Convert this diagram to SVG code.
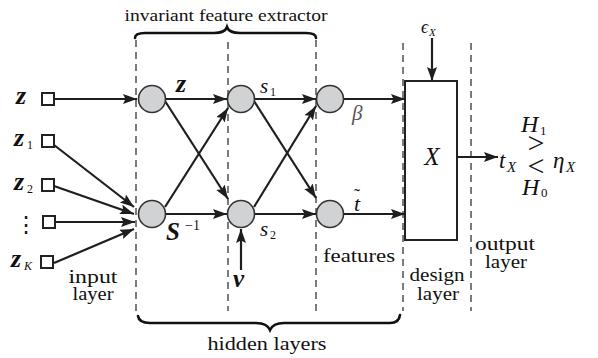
<svg xmlns="http://www.w3.org/2000/svg" width="598" height="358" viewBox="0 0 598 358" font-family="'Liberation Serif', 'DejaVu Serif', serif">
  <style>
    text { font-family: "Liberation Serif", "DejaVu Serif", serif; fill: #111; }
    .t { font-style: normal; }
    .m { font-style: italic; }
    .b { font-style: italic; font-weight: bold; }
    .neuron { fill: #d1d2d4; stroke: #333; stroke-width: 1.6; }
    .inp { fill: #fff; stroke: #222; stroke-width: 2; }
    .edge { stroke: #1e1e1e; stroke-width: 2.2; fill: none; }
    .sep { stroke: #444; stroke-width: 1.4; stroke-dasharray: 7 5; fill: none; }
    .brace { stroke: #111; stroke-width: 2.6; fill: none; stroke-linecap: round; }
  </style>
  <defs>
    <marker id="ah" markerUnits="userSpaceOnUse" markerWidth="16" markerHeight="12" refX="14" refY="5" orient="auto">
      <path d="M0,0 L14,5 L0,10 L2.5,5 Z" fill="#1e1e1e"/>
    </marker>
  </defs>

  <!-- layer separators -->
  <g id="separators">
    <line class="sep" x1="136" y1="40" x2="136" y2="311"/>
    <line class="sep" x1="228" y1="42" x2="228" y2="311"/>
    <line class="sep" x1="316" y1="40" x2="316" y2="311"/>
    <line class="sep" x1="403" y1="43" x2="403" y2="311"/>
    <line class="sep" x1="471" y1="43" x2="471" y2="311"/>
  </g>

  <!-- braces -->
  <g id="braces">
    <path class="brace" d="M135,38 Q135,33 145,33 L214,33 Q225,33 227,27 Q229,33 240,33 L306,33 Q316,33 316,38"/>
    <path class="brace" d="M138,316 Q139,323 150,323 L256,323 Q267,323 270,330 Q273,323 284,323 L390,323 Q399,323 400,315"/>
  </g>

  <!-- connectors -->
  <g id="connectors">
    <line class="edge" x1="54" y1="99" x2="137" y2="99" marker-end="url(#ah)"/>
    <line class="edge" x1="54" y1="145" x2="134" y2="207" marker-end="url(#ah)"/>
    <line class="edge" x1="54" y1="186" x2="134" y2="214" marker-end="url(#ah)"/>
    <line class="edge" x1="55" y1="222" x2="135" y2="222" marker-end="url(#ah)"/>
    <line class="edge" x1="54" y1="263" x2="134" y2="229" marker-end="url(#ah)"/>

    <line class="edge" x1="166" y1="99" x2="227" y2="99" marker-end="url(#ah)"/>
    <line class="edge" x1="166" y1="214" x2="227" y2="214" marker-end="url(#ah)"/>
    <line class="edge" x1="165" y1="101" x2="228" y2="199" marker-end="url(#ah)"/>
    <line class="edge" x1="165" y1="207" x2="228" y2="108" marker-end="url(#ah)"/>

    <line class="edge" x1="255" y1="99" x2="316" y2="99" marker-end="url(#ah)"/>
    <line class="edge" x1="255" y1="214" x2="316" y2="214" marker-end="url(#ah)"/>
    <line class="edge" x1="254" y1="101" x2="316" y2="198" marker-end="url(#ah)"/>
    <line class="edge" x1="254" y1="207" x2="316" y2="106" marker-end="url(#ah)"/>

    <line class="edge" x1="344" y1="99" x2="405" y2="99" marker-end="url(#ah)"/>
    <line class="edge" x1="344" y1="214" x2="405" y2="214" marker-end="url(#ah)"/>

    <line class="edge" x1="241" y1="270" x2="241" y2="229" marker-end="url(#ah)"/>
    <line class="edge" x1="432" y1="38" x2="432" y2="81" marker-end="url(#ah)"/>
    <line class="edge" x1="457" y1="157" x2="498" y2="157" marker-end="url(#ah)"/>
  </g>

  <!-- input nodes -->
  <g id="in-z">
    <rect class="inp" x="42" y="93" width="12" height="12"/>
    <text class="b" x="16" y="104" font-size="26">z</text>
  </g>
  <g id="in-z1">
    <rect class="inp" x="42" y="135" width="12" height="12"/>
    <text class="b" x="14" y="146" font-size="26">z</text>
    <text class="t" x="27" y="149" font-size="12">1</text>
  </g>
  <g id="in-z2">
    <rect class="inp" x="42" y="179" width="12" height="12"/>
    <text class="b" x="14" y="190" font-size="26">z</text>
    <text class="t" x="27" y="193" font-size="12">2</text>
  </g>
  <g id="in-dots">
    <rect class="inp" x="43" y="216" width="12" height="12"/>
    <text class="t" x="26" y="232" font-size="22" text-anchor="middle">⋮</text>
  </g>
  <g id="in-zK">
    <rect class="inp" x="41" y="256" width="12" height="12"/>
    <text class="b" x="11" y="267" font-size="26">z</text>
    <text class="m" x="24" y="270" font-size="12">K</text>
  </g>

  <!-- hidden neurons -->
  <g id="n-z"><circle class="neuron" cx="152" cy="99" r="13.5"/></g>
  <g id="n-s"><circle class="neuron" cx="152" cy="214" r="13.5"/></g>
  <g id="n-s1"><circle class="neuron" cx="241" cy="99" r="13.5"/></g>
  <g id="n-s2"><circle class="neuron" cx="241" cy="214" r="13.5"/></g>
  <g id="n-beta"><circle class="neuron" cx="330" cy="99" r="13.5"/></g>
  <g id="n-t"><circle class="neuron" cx="330" cy="214" r="13.5"/></g>

  <!-- design block -->
  <g id="design-X">
    <rect x="405" y="81" width="52" height="159" fill="#fff" stroke="#222" stroke-width="2"/>
    <text class="m" x="432" y="165" font-size="25" text-anchor="middle">X</text>
  </g>

  <!-- edge and node labels -->
  <g id="labels">
    <text class="b" x="176" y="92" font-size="26">z</text>
    <text class="m" x="260" y="93" font-size="21">s</text>
    <text class="t" x="270" y="96" font-size="12">1</text>
    <text class="m" x="352" y="120" font-size="21" style="fill:#555">β</text>
    <text class="m" x="354" y="211" font-size="22">t</text>
    <text class="t" x="354" y="202" font-size="18">˜</text>
    <text class="b" x="166" y="240" font-size="25">S</text>
    <text class="t" x="185" y="230" font-size="14">−1</text>
    <text class="m" x="260" y="236" font-size="21">s</text>
    <text class="t" x="270" y="239" font-size="12">2</text>
    <text class="b" x="233" y="287" font-size="25">v</text>
    <text class="m" x="421" y="33" font-size="18">ϵ</text>
    <text class="m" x="429" y="36" font-size="11">X</text>
  </g>

  <!-- decision rule -->
  <g id="decision">
    <text class="m" x="499" y="168" font-size="23">t</text>
    <text class="m" x="507" y="172" font-size="15">X</text>
    <text class="t" x="536" y="153" font-size="30" text-anchor="middle">&gt;</text>
    <text class="t" x="536" y="176" font-size="30" text-anchor="middle">&lt;</text>
    <text class="m" x="553" y="168" font-size="23">η</text>
    <text class="m" x="566" y="172" font-size="15">X</text>
    <text class="m" x="521" y="132" font-size="24">H</text>
    <text class="t" x="540" y="135" font-size="13">1</text>
    <text class="m" x="522" y="195" font-size="24">H</text>
    <text class="t" x="541" y="197" font-size="13">0</text>
  </g>

  <!-- layer captions -->
  <g id="captions">
    <text class="t" x="226" y="21" font-size="16" text-anchor="middle" textLength="203" lengthAdjust="spacingAndGlyphs">invariant feature extractor</text>
    <text class="t" x="267" y="350" font-size="18" text-anchor="middle" textLength="119" lengthAdjust="spacingAndGlyphs">hidden layers</text>
    <text class="t" x="93" y="283" font-size="18" text-anchor="middle" textLength="49" lengthAdjust="spacingAndGlyphs">input</text>
    <text class="t" x="93" y="300" font-size="18" text-anchor="middle" textLength="41" lengthAdjust="spacingAndGlyphs">layer</text>
    <text class="t" x="359" y="262" font-size="19" text-anchor="middle" textLength="72" lengthAdjust="spacingAndGlyphs">features</text>
    <text class="t" x="437" y="281" font-size="19" text-anchor="middle" textLength="55" lengthAdjust="spacingAndGlyphs">design</text>
    <text class="t" x="438" y="300" font-size="19" text-anchor="middle" textLength="42" lengthAdjust="spacingAndGlyphs">layer</text>
    <text class="t" x="505" y="250" font-size="19" text-anchor="middle" textLength="60" lengthAdjust="spacingAndGlyphs">output</text>
    <text class="t" x="506" y="268" font-size="19" text-anchor="middle" textLength="42" lengthAdjust="spacingAndGlyphs">layer</text>
  </g>
</svg>
